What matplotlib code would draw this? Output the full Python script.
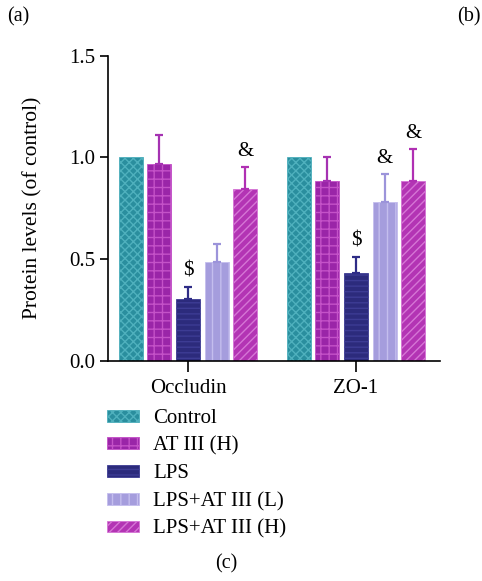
import matplotlib.pyplot as plt
import numpy as np
from matplotlib.patches import Patch

plt.rcParams.update({
    "font.family": ["Liberation Serif", "DejaVu Serif"],
    "font.size": 15,
    "hatch.linewidth": 1.0,
})

groups = ["Occludin", "ZO-1"]
series = ["Control", "AT III (H)", "LPS", "LPS+AT III (L)", "LPS+AT III (H)"]
occludin = [1.00, 0.97, 0.305, 0.485, 0.845]
occludin_err = [0.0, 0.14, 0.06, 0.09, 0.11]
zo1 = [1.00, 0.885, 0.43, 0.78, 0.885]
zo1_err = [0.0, 0.115, 0.08, 0.14, 0.155]
marks = [["", "", "$", "", "&"], ["", "", "$", "&", "&"]]

colors = ["#2A8E9E", "#9A25A8", "#2C2B7C", "#A59DDD", "#B334B4"]
hatch_colors = ["#4FB0BD", "#C452C8", "#3D3C94", "#C4BEEE", "#D575D5"]
err_colors = ["#2A8E9E", "#A532B2", "#2E2C86", "#9C94DA", "#B030B3"]
hatches = ["xxxx", "++", "---", "||", "////"]

fig = plt.figure(figsize=(4.82, 5.81), dpi=100)
ax = fig.add_axes([0.224, 0.379, 0.689, 0.525])

x = np.arange(len(groups))
step, width = 0.17, 0.143
vals = [occludin, zo1]
errs = [occludin_err, zo1_err]
for i in range(len(series)):
    xi = x + (i - 2) * step
    v = [vals[g][i] for g in range(len(groups))]
    e = [errs[g][i] for g in range(len(groups))]
    ax.bar(xi, v, width=width, color=colors[i], edgecolor=hatch_colors[i],
           linewidth=0.6, hatch=hatches[i], zorder=2)
    if i > 0:
        ax.errorbar(xi, v, yerr=[np.zeros(len(e)), e], fmt="none",
                    ecolor=err_colors[i], elinewidth=1.6, capsize=2.6,
                    capthick=1.6, zorder=3)
    for g in range(len(groups)):
        m = marks[g][i]
        if m:
            ax.text(xi[g], v[g] + e[g] + 0.03, "\\$" if m == "$" else m,
                    ha="center", va="bottom", fontsize=15)

ax.set_xlim(-0.476, 1.5)
ax.set_ylim(0, 1.5)
ax.set_yticks([0, 0.5, 1.0, 1.5])
ax.set_yticklabels(["0.0", "0.5", "1.0", "1.5"])
ax.set_xticks(x)
ax.set_xticklabels(groups)
ax.tick_params(axis="both", labelsize=15, width=1.2, length=6, pad=3)
ax.tick_params(axis="x", length=8, pad=5)
ax.set_ylabel("Protein levels (of control)", fontsize=15.5, labelpad=19)
for s in ("top", "right"):
    ax.spines[s].set_visible(False)
for s in ("left", "bottom"):
    ax.spines[s].set_linewidth(1.2)

handles = [Patch(facecolor=colors[i], edgecolor=hatch_colors[i], hatch=hatches[i],
                 linewidth=0.6, label=series[i]) for i in range(len(series))]
fig.legend(handles=handles, loc="upper left", bbox_to_anchor=(107 / 482, 1 - 409 / 581),
           frameon=False, fontsize=15, handlelength=1.55, handleheight=0.5,
           labelspacing=0.41, handletextpad=0.67, borderpad=0, borderaxespad=0)

fig.text(7 / 482, 1 - 17 / 581, "(a)", ha="left", va="center", fontsize=14.5)
fig.text(481 / 482, 1 - 17 / 581, "(b)", ha="right", va="center", fontsize=14.5)
fig.text(226 / 482, 1 - 564 / 581, "(c)", ha="center", va="center", fontsize=14.5)

fig.savefig("out.png", dpi=100, facecolor="white")
